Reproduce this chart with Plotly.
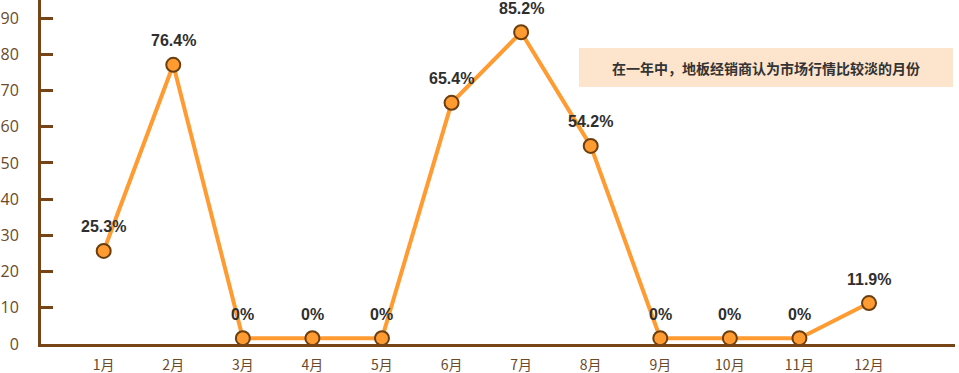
import plotly.graph_objects as go

months = ["1月", "2月", "3月", "4月", "5月", "6月", "7月", "8月", "9月", "10月", "11月", "12月"]
plotted = [25.7, 77.1, 1.6, 1.6, 1.6, 66.6, 86.1, 54.7, 1.6, 1.6, 1.6, 11.3]
labels = ["25.3%", "76.4%", "0%", "0%", "0%", "65.4%", "85.2%", "54.2%", "0%", "0%", "0%", "11.9%"]
y_ticks = [0, 10, 20, 30, 40, 50, 60, 70, 80, 90]
note = "在一年中，地板经销商认为市场行情比较淡的月份"

xs = list(range(1, len(months) + 1))
brown = "#774515"
label_brown = "#6B4A2B"

fig = go.Figure()
fig.add_trace(go.Scatter(
    x=xs, y=plotted, mode="lines+markers",
    line=dict(color="#FF9B30", width=4),
    marker=dict(size=14, color="#FF9B30", line=dict(color="#6B3E10", width=2)),
    hoverinfo="skip", showlegend=False, cliponaxis=False,
))

for x, y, t in zip(xs, plotted, labels):
    fig.add_annotation(
        x=x, y=y, text=t, showarrow=False, yshift=24, yanchor="middle",
        font=dict(family="Liberation Sans Narrow, Liberation Sans, sans-serif",
                  size=16, color="#2E2E2E", weight="bold"),
    )

fig.add_shape(type="rect", xref="paper", yref="paper",
              x0=(579 - 41) / 914, x1=(953 - 41) / 914,
              y0=1 - 87 / 344, y1=1 - 48 / 344,
              fillcolor="#FDE4CC", line=dict(width=0), layer="below")
fig.add_annotation(xref="paper", yref="paper",
                   x=(766 - 41) / 914, y=1 - 68 / 344,
                   text="<b>" + note + "</b>", showarrow=False,
                   xanchor="center", yanchor="middle",
                   font=dict(family="Noto Sans CJK SC", size=14, color="#333333"))

fig.update_layout(
    width=959, height=373,
    margin=dict(l=41, r=4, t=0, b=29),
    plot_bgcolor="white", paper_bgcolor="white",
    xaxis=dict(
        range=[0.099, 13.236], tickmode="array", tickvals=xs, ticktext=months,
        showgrid=False, zeroline=False, showline=True, linewidth=3, linecolor=brown,
        ticks="", tickfont=dict(family="Noto Sans CJK SC", size=14, color=label_brown),
        ticklabelstandoff=6, automargin=False,
    ),
    yaxis=dict(
        range=[0, 95], tickmode="array", tickvals=y_ticks,
        showgrid=False, zeroline=False, showline=True, linewidth=3, linecolor=brown,
        ticks="inside", ticklen=12, tickwidth=3, tickcolor=brown,
        tickfont=dict(family="Open Sans", size=16, color=label_brown),
        ticklabelstandoff=16, automargin=False,
    ),
)

fig.write_html("out.html")
